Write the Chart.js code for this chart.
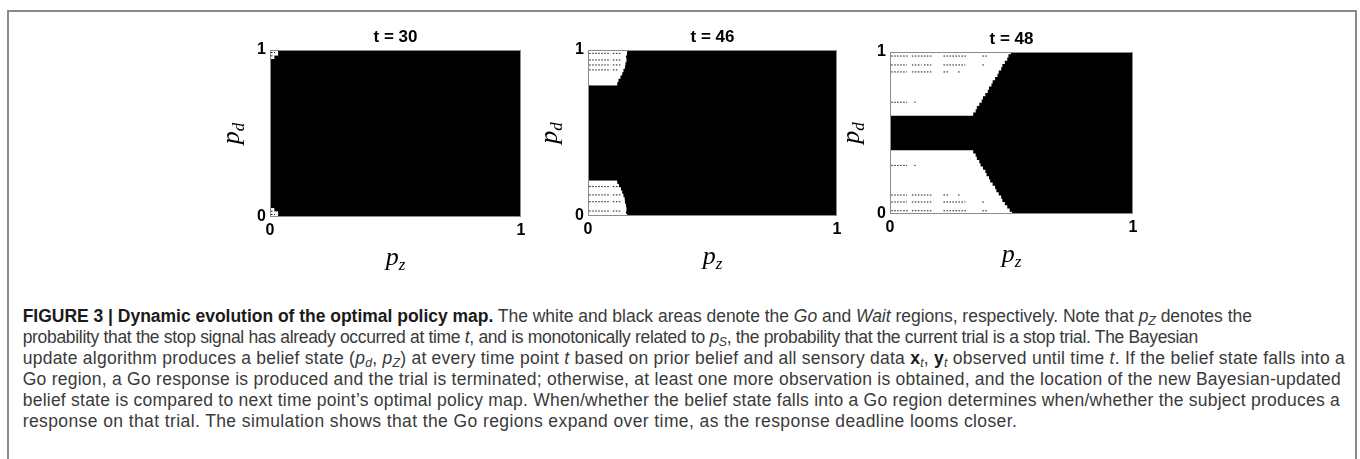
<!DOCTYPE html>
<html>
<head>
<meta charset="utf-8">
<script src="https://cdn.jsdelivr.net/npm/chart.js@4.4.0/dist/chart.umd.min.js"></script>
<style>
  body { margin: 0; background: #fff; width: 1360px; height: 459px; overflow: hidden; position: relative;
         font-family: "Liberation Sans", Arial, sans-serif; }
  #frame { position: absolute; left: 7px; top: 10px; width: 1350px; height: 500px; box-sizing: border-box;
           border: 2px solid #8a8a8a; border-bottom: none; }
  .panel { position: absolute; }
  #caption { position: absolute; left: 22.7px; top: 306.4px; font-size: 17.5px; line-height: 21px; color: #3a3a3a; }
  .ln { display: block; width: max-content; white-space: nowrap; height: 21px; }
  .ln b { color: #1a1a1a; }
  sub { font-size: 70%; vertical-align: -3px; line-height: 0; }
</style>
</head>
<body>
<div id="frame"></div>

<div class="panel" style="left:215px;top:27px;width:361px;height:250px"><canvas id="c30"></canvas></div>
<div class="panel" style="left:533px;top:27px;width:359px;height:249px"><canvas id="c46"></canvas></div>
<div class="panel" style="left:835px;top:29px;width:353px;height:245px"><canvas id="c48"></canvas></div>

<div id="caption">
  <span class="ln"><b>FIGURE 3 | Dynamic evolution of the optimal policy map.</b> The white and black areas denote the <i>Go</i> and <i>Wait</i> regions, respectively. Note that <i>p<sub>Z</sub></i> denotes the</span>
  <span class="ln">probability that the stop signal has already occurred at time <i>t</i>, and is monotonically related to <i>p<sub>S</sub></i>, the probability that the current trial is a stop trial. The Bayesian</span>
  <span class="ln">update algorithm produces a belief state (<i>p<sub>d</sub></i>, <i>p<sub>Z</sub></i>) at every time point <i>t</i> based on prior belief and all sensory data <b>x</b><sub><i>t</i></sub>, <b>y</b><sub><i>t</i></sub> observed until time <i>t</i>. If the belief state falls into a</span>
  <span class="ln">Go region, a Go response is produced and the trial is terminated; otherwise, at least one more observation is obtained, and the location of the new Bayesian-updated</span>
  <span class="ln">belief state is compared to next time point’s optimal policy map. When/whether the belief state falls into a Go region determines when/whether the subject produces a</span>
  <span class="ln">response on that trial. The simulation shows that the Go regions expand over time, as the response deadline looms closer.</span>
</div>

<script>
// rows of the belief grid, p_d from 0 to 1
const pdRows = [0, 0.02, 0.04, 0.06, 0.08, 0.10, 0.12, 0.14, 0.16, 0.18,
                0.20, 0.22, 0.24, 0.26, 0.28, 0.30, 0.32, 0.34, 0.36, 0.38,
                0.40, 0.42, 0.44, 0.46, 0.48, 0.50, 0.52, 0.54, 0.56, 0.58,
                0.60, 0.62, 0.64, 0.66, 0.68, 0.70, 0.72, 0.74, 0.76, 0.78,
                0.80, 0.82, 0.84, 0.86, 0.88, 0.90, 0.92, 0.94, 0.96, 0.98, 1.00];

// Go (white) region reaches from p_z = 0 up to this edge, per row (0 = all Wait)
const goEdgeT30 = [0.025, 0.03, 0.015, 0, 0, 0, 0, 0, 0, 0,
                   0, 0, 0, 0, 0, 0, 0, 0, 0, 0,
                   0, 0, 0, 0, 0, 0, 0, 0, 0, 0,
                   0, 0, 0, 0, 0, 0, 0, 0, 0, 0,
                   0, 0, 0, 0, 0, 0, 0, 0, 0.015, 0.03, 0.025];
const goEdgeT46 = [0.155, 0.15, 0.152, 0.15, 0.146, 0.145, 0.14, 0.135, 0.13, 0.122,
                   0.115, 0, 0, 0, 0, 0, 0, 0, 0, 0,
                   0, 0, 0, 0, 0, 0, 0, 0, 0, 0,
                   0, 0, 0, 0, 0, 0, 0, 0, 0, 0,
                   0.115, 0.12, 0.128, 0.135, 0.14, 0.146, 0.148, 0.152, 0.15, 0.154, 0.155];
const goEdgeT48 = [0.50, 0.49, 0.48, 0.47, 0.46, 0.455, 0.445, 0.435, 0.43, 0.42,
                   0.41, 0.405, 0.395, 0.39, 0.38, 0.37, 0.365, 0.355, 0.35, 0.34,
                   0, 0, 0, 0, 0, 0, 0, 0, 0, 0,
                   0, 0.34, 0.35, 0.355, 0.365, 0.375, 0.38, 0.39, 0.40, 0.405,
                   0.415, 0.42, 0.43, 0.44, 0.445, 0.455, 0.46, 0.47, 0.48, 0.485, 0.495];

// dotted Wait specks inside the Go region: [p_d, p_z from, p_z to]
const specksT30 = [[0.985, 0.004, 0.02], [0.965, 0.004, 0.015], [0.035, 0.004, 0.015], [0.015, 0.004, 0.02]];
const specksT46 = [[0.98, 0.005, 0.09], [0.98, 0.10, 0.13], [0.94, 0.005, 0.09], [0.94, 0.10, 0.13],
                   [0.91, 0.005, 0.09], [0.91, 0.10, 0.13], [0.88, 0.005, 0.09], [0.88, 0.10, 0.12],
                   [0.177, 0.005, 0.09], [0.177, 0.10, 0.12], [0.127, 0.005, 0.09], [0.127, 0.10, 0.13],
                   [0.086, 0.005, 0.09], [0.086, 0.10, 0.13], [0.03, 0.005, 0.09], [0.03, 0.10, 0.13]];
const specksT48 = [[0.975, 0.005, 0.075], [0.975, 0.09, 0.17], [0.975, 0.22, 0.315], [0.975, 0.38, 0.40],
                   [0.92, 0.005, 0.07], [0.92, 0.09, 0.13], [0.92, 0.14, 0.17], [0.92, 0.22, 0.31], [0.92, 0.38, 0.39],
                   [0.877, 0.005, 0.07], [0.877, 0.09, 0.17], [0.877, 0.22, 0.24], [0.877, 0.28, 0.29],
                   [0.69, 0.005, 0.07], [0.69, 0.10, 0.105],
                   [0.30, 0.005, 0.07], [0.30, 0.10, 0.105],
                   [0.117, 0.005, 0.07], [0.117, 0.09, 0.17], [0.117, 0.22, 0.24], [0.117, 0.28, 0.29],
                   [0.074, 0.005, 0.07], [0.074, 0.09, 0.17], [0.074, 0.22, 0.31], [0.074, 0.38, 0.39],
                   [0.02, 0.005, 0.075], [0.02, 0.09, 0.17], [0.02, 0.22, 0.315], [0.02, 0.38, 0.40]];

const panelTitles = ['t = 30', 't = 46', 't = 48'];
const axisTicks = [0, 1];

// caption line right ends, px
const captionEnds = [1252, 1198, 1345, 1341, 1340, 1079];

const sansBold = {family: '"Liberation Sans", Arial, sans-serif', size: 16, weight: 'bold'};

function drawSubLabel(ctx, main, sub, cx, cy, vertical) {
  ctx.save();
  ctx.translate(cx, cy);
  if (vertical) ctx.rotate(-Math.PI / 2);
  ctx.fillStyle = '#000';
  ctx.textBaseline = 'alphabetic';
  ctx.font = 'italic 26px "Liberation Serif", serif';
  const wm = ctx.measureText(main).width;
  ctx.font = 'italic 17px "Liberation Serif", serif';
  const ws = ctx.measureText(sub).width;
  const x = -(wm + ws) / 2;
  ctx.font = 'italic 26px "Liberation Serif", serif';
  ctx.fillText(main, x, 3);
  ctx.font = 'italic 17px "Liberation Serif", serif';
  ctx.fillText(sub, x + wm, 8);
  ctx.restore();
}

const policyBox = {
  id: 'policyBox',
  beforeDatasetsDraw(chart) {
    const {ctx, chartArea: a} = chart;
    ctx.save();
    ctx.fillStyle = '#000';
    ctx.fillRect(a.left, a.top, a.right - a.left, a.bottom - a.top);
    ctx.restore();
  },
  afterDatasetsDraw(chart) {
    const {ctx, chartArea: a} = chart;
    ctx.save();
    ctx.strokeStyle = '#8c8c8c';
    ctx.lineWidth = 1;
    ctx.strokeRect(a.left + 0.5, a.top + 0.5, a.right - a.left - 1, a.bottom - a.top - 1);
    ctx.restore();
  },
  afterDraw(chart) {
    const {ctx, chartArea: a} = chart;
    drawSubLabel(ctx, 'p', 'z', (a.left + a.right) / 2, a.bottom + 45, false);
    drawSubLabel(ctx, 'p', 'd', a.left - 34, (a.top + a.bottom) / 2, true);
  }
};

function axis(extra) {
  return Object.assign({
    type: 'linear', min: 0, max: 1, offset: false,
    grid: {display: false, drawTicks: false},
    border: {display: false},
    ticks: {font: sansBold, color: '#000', padding: 4, callback: v => String(v)},
    afterBuildTicks: s => { s.ticks = axisTicks.map(v => ({value: v})); }
  }, extra);
}

function makeChart(id, title, edges, specks) {
  const datasets = [{
    type: 'bar',
    label: 'Go',
    // rows with no Go cells are left out
    data: pdRows.map((p, i) => ({x: edges[i] > 0 ? edges[i] : null, y: p})),
    backgroundColor: '#fff',
    borderWidth: 0,
    barPercentage: 1,
    categoryPercentage: 1,
    inflateAmount: 0.6,
    clip: 0,
    order: 2
  }];
  specks.forEach(s => {
    datasets.push({
      type: 'line',
      label: 'Wait',
      data: [{x: s[1], y: s[0]}, {x: s[2], y: s[0]}],
      borderColor: '#111',
      borderWidth: 1,
      borderDash: [1.5, 1.5],
      pointRadius: 0,
      clip: 0,
      order: 1
    });
  });

  return new Chart(document.getElementById(id), {
    type: 'bar',
    data: {datasets: datasets},
    options: {
      indexAxis: 'y',
      responsive: true,
      maintainAspectRatio: false,
      devicePixelRatio: 1,
      animation: false,
      layout: {padding: 0},
      plugins: {
        legend: {display: false},
        tooltip: {enabled: false},
        title: {display: true, text: title, color: '#000', padding: {top: 0, bottom: 2.6},
                font: {family: '"Liberation Sans", Arial, sans-serif', size: 17, weight: 'bold'}}
      },
      scales: {
        x: axis({position: 'bottom', afterFit: s => { s.height = 60; }}),
        y: axis({position: 'left', afterFit: s => { s.width = 55; }}),
        yPad: {type: 'linear', position: 'right', min: 0, max: 1, display: true,
               grid: {display: false}, border: {display: false}, ticks: {display: false},
               afterFit: s => { s.width = 55; }}
      }
    },
    plugins: [policyBox]
  });
}

makeChart('c30', panelTitles[0], goEdgeT30, specksT30);
makeChart('c46', panelTitles[1], goEdgeT46, specksT46);
makeChart('c48', panelTitles[2], goEdgeT48, specksT48);

// nudge caption lines toward the original line lengths, within natural-looking limits
document.querySelectorAll('#caption .ln').forEach((el, i) => {
  const w = el.getBoundingClientRect().width;
  const n = el.textContent.length;
  const target = captionEnds[i] - 22.7;
  const ls = Math.max(-0.4, Math.min(0.4, (target - w) / n));
  el.style.letterSpacing = ls.toFixed(3) + 'px';
});
</script>
</body>
</html>
